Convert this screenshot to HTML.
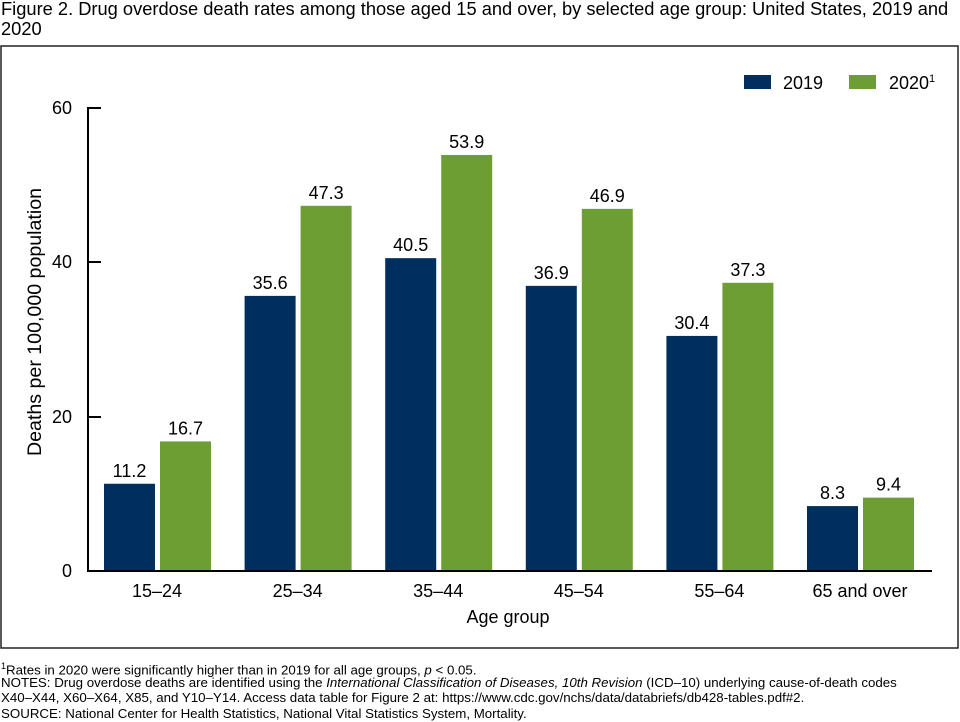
<!DOCTYPE html>
<html><head><meta charset="utf-8"><style>
body{margin:0;width:960px;height:720px;background:#fff;font-family:"Liberation Sans",Arial,sans-serif;position:relative;overflow:hidden}
.t{position:absolute;left:1px;top:-1px;font-size:18.3px;line-height:20px;color:#000;white-space:nowrap}
.n{position:absolute;left:1px;font-size:13.3px;line-height:15.5px;color:#000;white-space:nowrap}
</style></head><body>
<div class="t">Figure 2. Drug overdose death rates among those aged 15 and over, by selected age group: United States, 2019 and<br>2020</div>
<svg width="960" height="720" style="position:absolute;left:0;top:0" font-family="Liberation Sans, Arial, sans-serif">
<rect x="1" y="46" width="957" height="602" fill="none" stroke="#222" stroke-width="1.5"/>
<rect x="744" y="75" width="27" height="14" fill="#002F5E"/>
<text x="783" y="89" font-size="18">2019</text>
<rect x="849" y="75" width="27" height="14" fill="#6D9E33"/>
<text x="889" y="89" font-size="18">2020<tspan font-size="11" dy="-7">1</tspan></text>
<g stroke="#000" stroke-width="2" fill="none">
<path d="M101 108H88V571H932"/>
<path d="M88 262H101M88 417H101"/>
</g>
<g font-size="18" text-anchor="end">
<text x="72" y="114">60</text><text x="72" y="268">40</text><text x="72" y="423">20</text><text x="72" y="577">0</text>
</g>
<text transform="translate(41,322) rotate(-90)" font-size="19.6" text-anchor="middle">Deaths per 100,000 population</text>
<g id="bars"></g>
<text x="508" y="623" font-size="18" text-anchor="middle">Age group</text>
</svg>
<div class="n" style="top:659px"><sup style="font-size:9px">1</sup>Rates in 2020 were significantly higher than in 2019 for all age groups, <i>p</i> &lt; 0.05.</div>
<div class="n" style="top:675px">NOTES: Drug overdose deaths are identified using the <i>International Classification of Diseases, 10th Revision</i> (ICD–10) underlying cause-of-death codes</div>
<div class="n" style="top:690px">X40–X44, X60–X64, X85, and Y10–Y14. Access data table for Figure 2 at: https://www.cdc.gov/nchs/data/databriefs/db428-tables.pdf#2.</div>
<div class="n" style="top:706px">SOURCE: National Center for Health Statistics, National Vital Statistics System, Mortality.</div>
<script>
var d=[["15–24",11.2,16.7],["25–34",35.6,47.3],["35–44",40.5,53.9],["45–54",36.9,46.9],["55–64",30.4,37.3],["65 and over",8.3,9.4]];
var s="",k=7.7;
d.forEach(function(r,i){var x=104+i*140.6;
[[r[1],x,"#002F5E"],[r[2],x+56,"#6D9E33"]].forEach(function(b){var h=b[0]*k,y=570-h;
s+='<rect x="'+b[1]+'" y="'+y+'" width="51" height="'+h+'" fill="'+b[2]+'"/>';
s+='<text x="'+(b[1]+25.5)+'" y="'+(y-7)+'" font-size="18" text-anchor="middle">'+b[0].toFixed(1)+'</text>';});
s+='<text x="'+(x+53)+'" y="597" font-size="18" text-anchor="middle">'+r[0]+'</text>';});
document.getElementById("bars").innerHTML=s;
</script>
</body></html>
